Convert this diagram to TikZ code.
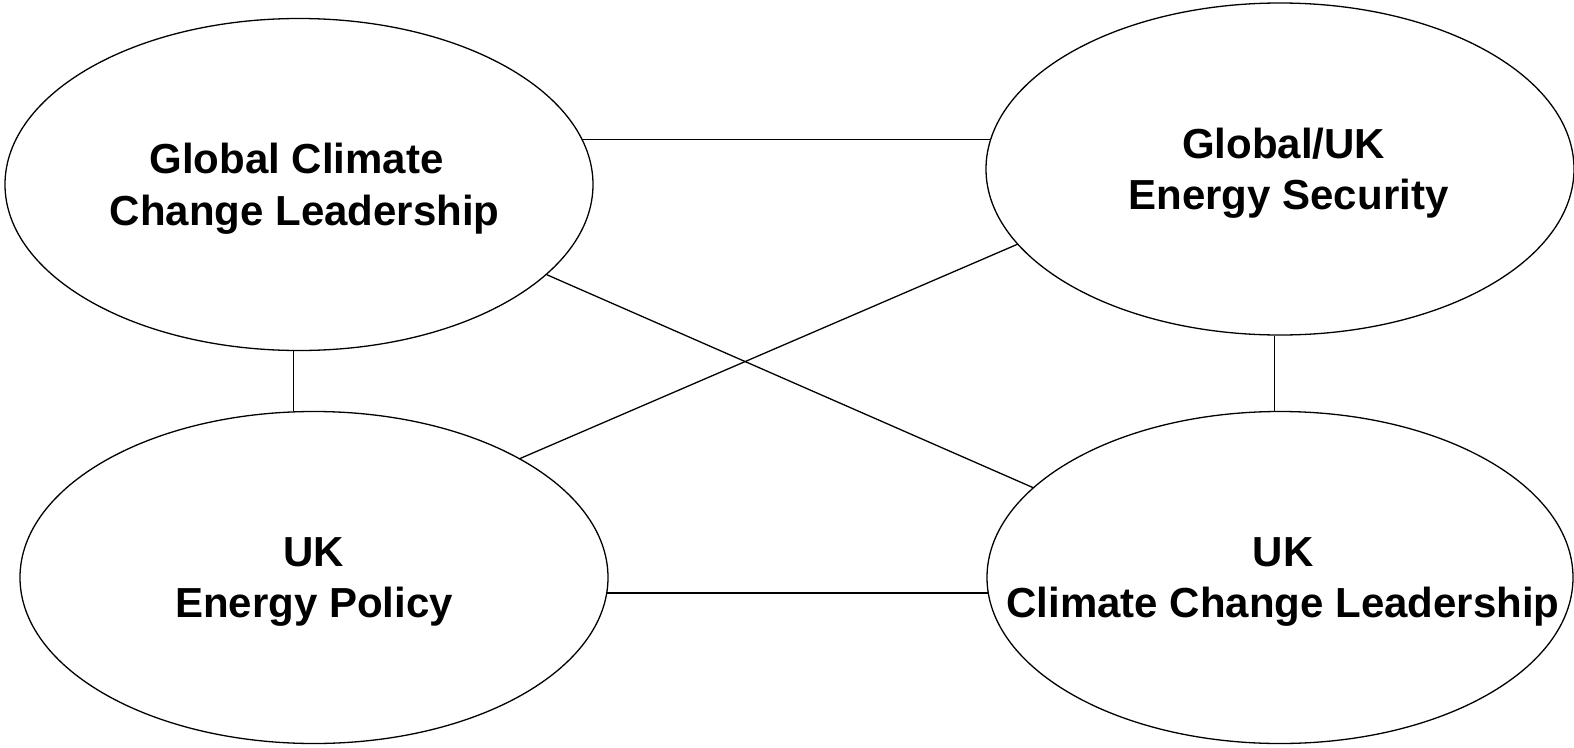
\documentclass[tikz,border=0pt]{standalone}
\usepackage{fontspec}
\setmainfont{Liberation Sans}
\usetikzlibrary{shapes.geometric}
\begin{document}
\begin{tikzpicture}[x=1pt,y=-1pt,
  oval/.style={draw, ellipse, line width=1.3pt, inner sep=0pt,
    minimum width=588pt, minimum height=332pt},
  lbl/.style={align=center, inner sep=0pt, text depth=0pt,
    font=\fontsize{42}{51.5}\selectfont\bfseries},
  link/.style={line width=1.3pt}]
\useasboundingbox (0,0) rectangle (1574,747);
\node[oval] (TL) at (299,184.5) {};
\node[oval] (TR) at (1280,169) {};
\node[oval] (BL) at (314,577.5) {};
\node[oval, minimum width=586pt] (BR) at (1280,577.5) {};
\node[lbl] (TLt) at (300.6,184.5) {Global Climate\hspace*{8pt}\\\hspace*{8pt}Change Leadership};
\node[lbl] (TRt) at (1286,169) {Global/UK\hspace*{5pt}\\\hspace*{5pt}Energy Security};
\node[lbl] (BLt) at (314,577.5) {UK\\Energy Policy};
\node[lbl] (BRt) at (1283,577.5) {UK\\Climate Change Leadership};
\draw[link] (TL.9) -- (TL.9 -| TR.174);
\draw[link] (BL.357) -- (BL.357 -| BR.183);
\draw[link] (TL.268) -- (TL.268 |- BL.north);
\draw[link] (TR.268) -- (TR.268 |- BR.north);
\draw[link] (TL.340) -- (BR.160);
\draw[link] (BL.30) -- (TR.196);
\end{tikzpicture}
\end{document}
